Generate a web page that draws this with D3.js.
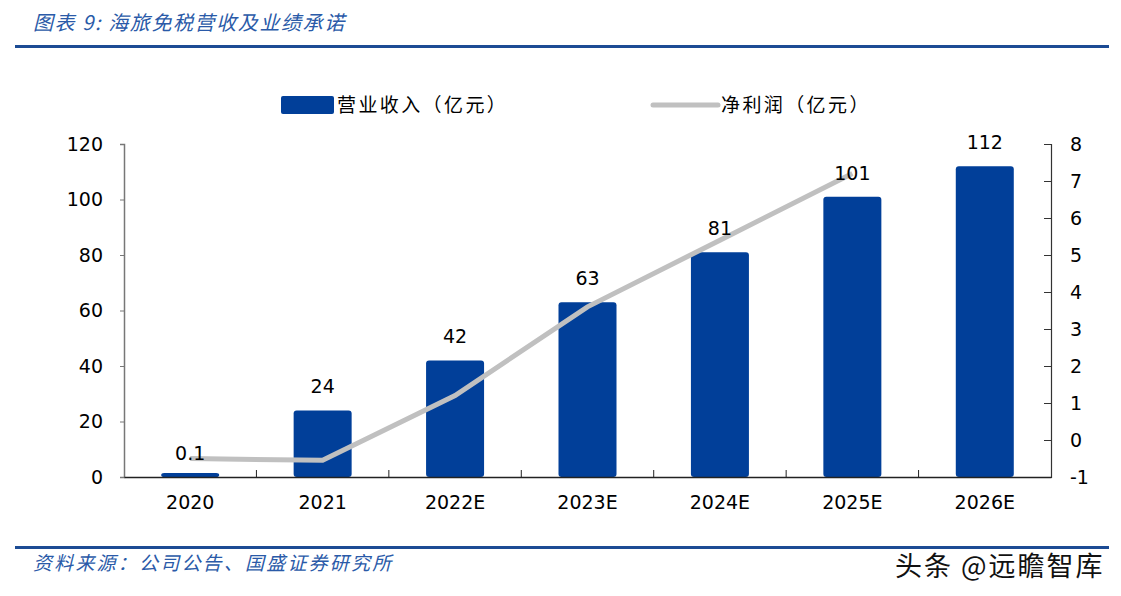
<!DOCTYPE html>
<html><head><meta charset="utf-8">
<script src="https://cdn.jsdelivr.net/npm/d3@7/dist/d3.min.js"></script>
<style>body{margin:0;background:#fff;}svg{display:block;}</style>
</head><body>
<svg id="c" width="1121" height="596"></svg>
<script>
const categories = ["2020","2021","2022E","2023E","2024E","2025E","2026E"];
const revenue = [0.1,24,42,63,81,101,112];
const revenueLabels = ["0.1","24","42","63","81","101","112"];
const profit = [-0.5,-0.55,1.2,3.6,5.4,7.2,null];
const leftTicks = [0,20,40,60,80,100,120];
const rightTicks = [-1,0,1,2,3,4,5,6,7,8];
const title = "图表 9:  海旅免税营收及业绩承诺";
const source = "资料来源：公司公告、国盛证券研究所";
const watermark = "头条 @远瞻智库";
const legendNames = ["营业收入（亿元）","净利润（亿元）"];

const svg = d3.select("#c");
const blue = "#013f99", gray = "#c0c0c0", rule = "#1c4b94";
const cjk = "'Noto Sans CJK SC', sans-serif";
const num = "'DejaVu Sans', sans-serif";

// title & rules
svg.append("text").attr("x",33).attr("y",30).attr("fill","#2a5aa8")
  .attr("font-family",cjk).attr("font-style","italic").attr("font-size",20)
  .attr("letter-spacing",1.6).text(title);
svg.append("rect").attr("x",15).attr("y",45).attr("width",1094).attr("height",3).attr("fill",rule);
svg.append("rect").attr("x",15).attr("y",546).attr("width",1094).attr("height",3).attr("fill",rule);
svg.append("text").attr("x",33).attr("y",570).attr("fill","#2a5aa8")
  .attr("font-family",cjk).attr("font-style","italic").attr("font-size",19)
  .attr("letter-spacing",2.2).text(source);
svg.append("text").attr("x",895).attr("y",576).attr("fill","#111")
  .attr("font-family",cjk).attr("font-size",27).attr("letter-spacing",2).text(watermark);

const L = 124, R = 1051, T = 144, B = 477;
const xc = d3.scaleBand().domain(categories).range([L,R]);
const yL = d3.scaleLinear().domain([0,120]).range([B,T]);
const yR = d3.scaleLinear().domain([-1,8]).range([B,T]);

// bars
svg.append("g").selectAll("rect").data(categories).join("rect")
  .attr("x",d=>xc(d)+xc.bandwidth()/2-29).attr("width",58)
  .attr("y",(d,i)=>Math.min(yL(revenue[i]),B-4)).attr("height",(d,i)=>Math.max(B-yL(revenue[i]),4))
  .attr("rx",3).attr("fill",blue);

// axes
const axL = svg.append("g").attr("transform",`translate(${L},0)`)
  .call(d3.axisLeft(yL).tickValues(leftTicks).tickSize(4).tickPadding(17));
axL.select(".domain").attr("stroke","#777").attr("stroke-width",1.5);
axL.selectAll(".tick line").attr("stroke","#777");
axL.selectAll("text").attr("font-family",num).attr("font-size",19).attr("fill","#000");

const axR = svg.append("g").attr("transform",`translate(${R},0)`)
  .call(d3.axisRight(yR).tickValues(rightTicks).tickFormat(d=>String(d))
    .tickSizeInner(-7).tickSizeOuter(-7).tickPadding(19));
axR.select(".domain").attr("stroke","#333").attr("stroke-width",1.2);
axR.selectAll(".tick line").attr("stroke","#333");
axR.selectAll("text").attr("font-family",num).attr("font-size",19).attr("fill","#000");

const axB = svg.append("g").attr("transform",`translate(0,${B})`)
  .call(d3.axisBottom(xc).tickSize(0).tickPadding(19));
axB.select(".domain").attr("stroke","#222").attr("stroke-width",1.5);
axB.selectAll("text").attr("font-family",num).attr("font-size",19).attr("fill","#000");
axB.selectAll(".sep").data(categories.slice(1)).join("line").attr("class","sep")
  .attr("x1",d=>xc(d)).attr("x2",d=>xc(d)).attr("y1",0).attr("y2",-7).attr("stroke","#222");

// line
const pts = categories.map((c,i)=>[c,profit[i]]).filter(p=>p[1]!==null);
svg.append("path").datum(pts)
  .attr("d",d3.line().x(p=>xc(p[0])+xc.bandwidth()/2).y(p=>yR(p[1])))
  .attr("fill","none").attr("stroke",gray).attr("stroke-width",5);

// labels
svg.append("g").selectAll("text").data(categories).join("text")
  .attr("x",d=>xc(d)+xc.bandwidth()/2).attr("y",(d,i)=>yL(revenue[i])-17)
  .attr("text-anchor","middle").attr("font-family",num).attr("font-size",19).attr("fill","#000")
  .text((d,i)=>revenueLabels[i]);

// legend
svg.append("rect").attr("x",281).attr("y",96).attr("width",53).attr("height",18).attr("rx",2).attr("fill",blue);
svg.append("text").attr("x",337).attr("y",112).attr("font-family",cjk).attr("font-size",19)
  .attr("letter-spacing",2.4).text(legendNames[0]);
svg.append("line").attr("x1",653).attr("x2",718).attr("y1",105).attr("y2",105)
  .attr("stroke",gray).attr("stroke-width",5).attr("stroke-linecap","round");
svg.append("text").attr("x",721).attr("y",112).attr("font-family",cjk).attr("font-size",19)
  .attr("letter-spacing",2.4).text(legendNames[1]);
</script>
</body></html>
